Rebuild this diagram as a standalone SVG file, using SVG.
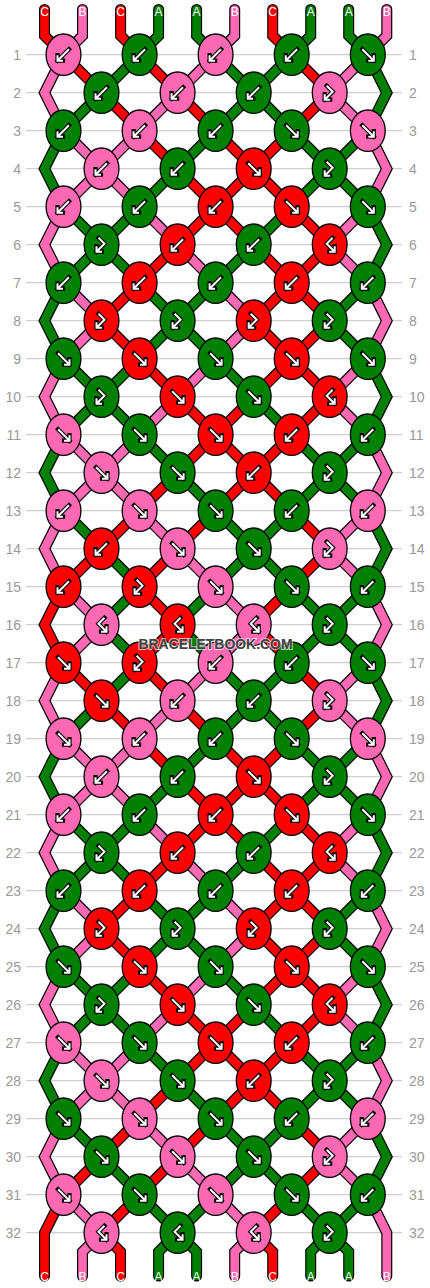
<svg xmlns="http://www.w3.org/2000/svg" xmlns:xlink="http://www.w3.org/1999/xlink" width="430" height="1288" viewBox="0 0 430 1288">
<style>
.gl{fill:none;stroke:#c4c4c4;stroke-width:1}
.rl{font-family:"Liberation Sans",Arial,sans-serif;font-size:14px;fill:#999}
.rl.l{text-anchor:end}
.ol{fill:none;stroke:#000;stroke-width:11;stroke-linejoin:miter;stroke-linecap:round}
.cA,.cB,.cC{fill:none;stroke-width:8.6;stroke-linejoin:miter;stroke-linecap:round}
.cA{stroke:#008000}.cB{stroke:#ff69b4}.cC{stroke:#ff0000}
.kA{fill:#008000}.kB{fill:#ff69b4}.kC{fill:#ff0000}
.ov{stroke:#000;stroke-width:1.3}
.ab{fill:none;stroke:#000;stroke-width:4.2;stroke-linecap:square;stroke-linejoin:miter}
.aw{fill:none;stroke:#fff;stroke-width:2;stroke-linecap:butt;stroke-linejoin:miter}
.sl{font-family:"Liberation Sans",Arial,sans-serif;font-size:12px;fill:#fff;text-anchor:middle}
.wm{font-family:"Liberation Sans",Arial,sans-serif;font-size:15px;font-weight:bold;fill:#404040;stroke:#fff;stroke-opacity:.7;stroke-width:2;paint-order:stroke;text-anchor:middle}
</style>
<defs>
<path id="dsw" d="M5.5,-5.5L-6,6M-6,0.5L-6,6L-0.5,6"/>
<path id="dse" d="M-5.5,-5.5L6,6M6,0.5L6,6L0.5,6"/>
<path id="dhl" d="M3,-7L-3,-1L5,7M5,1.5L5,7L-0.5,7"/>
<path id="dhr" d="M-3,-7L3,-1L-5,7M-5,1.5L-5,7L0.5,7"/>
<g id="sw"><ellipse class="ov" rx="17.4" ry="20.7"/><use href="#dsw" class="ab"/><use href="#dsw" class="aw"/></g>
<g id="se"><ellipse class="ov" rx="17.4" ry="20.7"/><use href="#dse" class="ab"/><use href="#dse" class="aw"/></g>
<g id="hl"><ellipse class="ov" rx="17.4" ry="20.7"/><use href="#dhl" class="ab"/><use href="#dhl" class="aw"/></g>
<g id="hr"><ellipse class="ov" rx="17.4" ry="20.7"/><use href="#dhr" class="ab"/><use href="#dhr" class="aw"/></g>
<path id="pA" d="M139.6,54.7l-38,38M215.6,54.7l38,38M291.7,54.7l-38,38M367.8,54.7l19,38l-19,38M101.5,92.7l-38,38M253.7,92.7l-38,38M253.7,92.7l38,38M63.5,130.7l-19,38l19,38M215.6,130.7l-38,38M291.7,130.7l38,38M367.8,130.7l-38,38M177.6,168.7l-38,38M329.7,168.7l-38,38M329.7,168.7l38,38M63.5,206.7l38,38M139.6,206.7l-38,38M291.7,206.7l-38,38M367.8,206.7l19,38l-19,38M101.5,244.7l-38,38M101.5,244.7l38,38M253.7,244.7l-38,38M63.5,282.7l-19,38l19,38M139.6,282.7l38,38M215.6,282.7l-38,38M367.8,282.7l-38,38M177.6,320.7l-38,38M177.6,320.7l38,38M329.7,320.7l38,38M63.5,358.7l38,38M139.6,358.7l-38,38M215.6,358.7l38,38M367.8,358.7l19,38l-19,38M101.5,396.7l-38,38M101.5,396.7l38,38M253.7,396.7l38,38M63.5,434.7l-19,38l19,38M139.6,434.7l38,38M291.7,434.7l38,38M367.8,434.7l-38,38M177.6,472.7l38,38M329.7,472.7l-38,38M329.7,472.7l38,38M63.5,510.7l38,38M215.6,510.7l38,38M291.7,510.7l-38,38M367.8,510.7l19,38l-19,38M101.5,548.7l38,38M253.7,548.7l-38,38M253.7,548.7l38,38"/>
<path id="pB" d="M63.5,54.7l-19,38l19,38M215.6,54.7l-38,38M367.8,54.7l-38,38M177.6,92.7l-38,38M329.7,92.7l38,38M63.5,130.7l38,38M139.6,130.7l-38,38M367.8,130.7l19,38l-19,38M101.5,168.7l-38,38M101.5,168.7l38,38M63.5,206.7l-19,38l19,38M139.6,206.7l38,38M367.8,206.7l-38,38M177.6,244.7l38,38M329.7,244.7l38,38M63.5,282.7l38,38M215.6,282.7l38,38M367.8,282.7l19,38l-19,38M101.5,320.7l-38,38M253.7,320.7l-38,38M63.5,358.7l-19,38l19,38M215.6,358.7l-38,38M367.8,358.7l-38,38M177.6,396.7l-38,38M329.7,396.7l38,38M63.5,434.7l38,38M139.6,434.7l-38,38M367.8,434.7l19,38l-19,38M101.5,472.7l-38,38M101.5,472.7l38,38M63.5,510.7l-19,38l19,38M139.6,510.7l38,38M367.8,510.7l-38,38M177.6,548.7l38,38M329.7,548.7l38,38"/>
<path id="pC" d="M63.5,54.7l38,38M139.6,54.7l38,38M291.7,54.7l38,38M101.5,92.7l38,38M177.6,92.7l38,38M329.7,92.7l-38,38M139.6,130.7l38,38M215.6,130.7l38,38M291.7,130.7l-38,38M177.6,168.7l38,38M253.7,168.7l-38,38M253.7,168.7l38,38M215.6,206.7l-38,38M215.6,206.7l38,38M291.7,206.7l38,38M177.6,244.7l-38,38M253.7,244.7l38,38M329.7,244.7l-38,38M139.6,282.7l-38,38M291.7,282.7l-38,38M291.7,282.7l38,38M101.5,320.7l38,38M253.7,320.7l38,38M329.7,320.7l-38,38M139.6,358.7l38,38M291.7,358.7l-38,38M291.7,358.7l38,38M177.6,396.7l38,38M253.7,396.7l-38,38M329.7,396.7l-38,38M215.6,434.7l-38,38M215.6,434.7l38,38M291.7,434.7l-38,38M177.6,472.7l-38,38M253.7,472.7l-38,38M253.7,472.7l38,38M139.6,510.7l-38,38M215.6,510.7l-38,38M291.7,510.7l38,38M101.5,548.7l-38,38M177.6,548.7l-38,38M329.7,548.7l-38,38"/>
<path id="qA" d="M158.6,9.5V35.7l-19,19M196.6,9.5V35.7l19,19M310.7,9.5V35.7l-19,19M348.7,9.5V35.7l19,19M139.6,586.7l-38,38M215.6,586.7l-38,38M291.7,586.7l38,38M367.8,586.7l-38,38M101.5,624.7l38,38M177.6,624.7l38,38M329.7,624.7l-38,38M329.7,624.7l38,38M139.6,1194.7l38,38M215.6,1194.7l-38,38M291.7,1194.7l38,38M367.8,1194.7l-38,38M177.6,1232.7l-19,19V1276M177.6,1232.7l19,19V1276M329.7,1232.7l-19,19V1276M329.7,1232.7l19,19V1276"/>
<path id="qB" d="M82.5,9.5V35.7l-19,19M234.7,9.5V35.7l-19,19M386.8,9.5V35.7l-19,19M63.5,586.7l38,38M215.6,586.7l38,38M367.8,586.7l19,38l-19,38M101.5,624.7l-38,38M253.7,624.7l-38,38M63.5,1194.7l38,38M215.6,1194.7l38,38M367.8,1194.7l19,38V1276M101.5,1232.7l-19,19V1276M253.7,1232.7l-19,19V1276"/>
<path id="qC" d="M44.5,9.5V35.7l19,19M120.6,9.5V35.7l19,19M272.7,9.5V35.7l19,19M63.5,586.7l-19,38l19,38M139.6,586.7l38,38M291.7,586.7l-38,38M177.6,624.7l-38,38M253.7,624.7l38,38M63.5,1194.7l-19,38V1276M139.6,1194.7l-38,38M291.7,1194.7l-38,38M101.5,1232.7l19,19V1276M253.7,1232.7l19,19V1276"/>
</defs>
<rect width="430" height="1288" fill="#fff"/>
<g id="grid">
<path class="gl" d="M26,54.7H402M26,92.7H402M26,130.7H402M26,168.7H402M26,206.7H402M26,244.7H402M26,282.7H402M26,320.7H402M26,358.7H402M26,396.7H402M26,434.7H402M26,472.7H402M26,510.7H402M26,548.7H402M26,586.7H402M26,624.7H402M26,662.7H402M26,700.7H402M26,738.7H402M26,776.7H402M26,814.7H402M26,852.7H402M26,890.7H402M26,928.7H402M26,966.7H402M26,1004.7H402M26,1042.7H402M26,1080.7H402M26,1118.7H402M26,1156.7H402M26,1194.7H402M26,1232.7H402"/>
<g class="rl l">
<text x="21" y="59.7">1</text><text x="21" y="97.7">2</text><text x="21" y="135.7">3</text><text x="21" y="173.7">4</text><text x="21" y="211.7">5</text><text x="21" y="249.7">6</text><text x="21" y="287.7">7</text><text x="21" y="325.7">8</text><text x="21" y="363.7">9</text><text x="21" y="401.7">10</text><text x="21" y="439.7">11</text><text x="21" y="477.7">12</text><text x="21" y="515.7">13</text><text x="21" y="553.7">14</text><text x="21" y="591.7">15</text><text x="21" y="629.7">16</text><text x="21" y="667.7">17</text><text x="21" y="705.7">18</text><text x="21" y="743.7">19</text><text x="21" y="781.7">20</text><text x="21" y="819.7">21</text><text x="21" y="857.7">22</text><text x="21" y="895.7">23</text><text x="21" y="933.7">24</text><text x="21" y="971.7">25</text><text x="21" y="1009.7">26</text><text x="21" y="1047.7">27</text><text x="21" y="1085.7">28</text><text x="21" y="1123.7">29</text><text x="21" y="1161.7">30</text><text x="21" y="1199.7">31</text><text x="21" y="1237.7">32</text>
</g>
<g class="rl">
<text x="409" y="59.7">1</text><text x="409" y="97.7">2</text><text x="409" y="135.7">3</text><text x="409" y="173.7">4</text><text x="409" y="211.7">5</text><text x="409" y="249.7">6</text><text x="409" y="287.7">7</text><text x="409" y="325.7">8</text><text x="409" y="363.7">9</text><text x="409" y="401.7">10</text><text x="409" y="439.7">11</text><text x="409" y="477.7">12</text><text x="409" y="515.7">13</text><text x="409" y="553.7">14</text><text x="409" y="591.7">15</text><text x="409" y="629.7">16</text><text x="409" y="667.7">17</text><text x="409" y="705.7">18</text><text x="409" y="743.7">19</text><text x="409" y="781.7">20</text><text x="409" y="819.7">21</text><text x="409" y="857.7">22</text><text x="409" y="895.7">23</text><text x="409" y="933.7">24</text><text x="409" y="971.7">25</text><text x="409" y="1009.7">26</text><text x="409" y="1047.7">27</text><text x="409" y="1085.7">28</text><text x="409" y="1123.7">29</text><text x="409" y="1161.7">30</text><text x="409" y="1199.7">31</text><text x="409" y="1237.7">32</text>
</g>
</g>
<g id="connectors">
<g class="ol">
<use href="#pA"/><use href="#pB"/><use href="#pC"/>
<use href="#pA" y="608"/><use href="#pB" y="608"/><use href="#pC" y="608"/>
<use href="#qA"/><use href="#qB"/><use href="#qC"/>
</g>
<use href="#pA" class="cA"/><use href="#pA" y="608" class="cA"/><use href="#qA" class="cA"/>
<use href="#pB" class="cB"/><use href="#pB" y="608" class="cB"/><use href="#qB" class="cB"/>
<use href="#pC" class="cC"/><use href="#pC" y="608" class="cC"/><use href="#qC" class="cC"/>
</g>
<g id="knots">
<g id="k1-1" class="kB" transform="translate(63.5 54.7)"><use href="#sw"/></g>
<g id="k1-2" class="kA" transform="translate(139.6 54.7)"><use href="#sw"/></g>
<g id="k1-3" class="kB" transform="translate(215.6 54.7)"><use href="#sw"/></g>
<g id="k1-4" class="kA" transform="translate(291.7 54.7)"><use href="#sw"/></g>
<g id="k1-5" class="kA" transform="translate(367.8 54.7)"><use href="#se"/></g>
<g id="k2-1" class="kA" transform="translate(101.5 92.7)"><use href="#sw"/></g>
<g id="k2-2" class="kB" transform="translate(177.6 92.7)"><use href="#sw"/></g>
<g id="k2-3" class="kA" transform="translate(253.7 92.7)"><use href="#sw"/></g>
<g id="k2-4" class="kB" transform="translate(329.7 92.7)"><use href="#hr"/></g>
<g id="k3-1" class="kA" transform="translate(63.5 130.7)"><use href="#sw"/></g>
<g id="k3-2" class="kB" transform="translate(139.6 130.7)"><use href="#sw"/></g>
<g id="k3-3" class="kA" transform="translate(215.6 130.7)"><use href="#sw"/></g>
<g id="k3-4" class="kA" transform="translate(291.7 130.7)"><use href="#se"/></g>
<g id="k3-5" class="kB" transform="translate(367.8 130.7)"><use href="#se"/></g>
<g id="k4-1" class="kB" transform="translate(101.5 168.7)"><use href="#sw"/></g>
<g id="k4-2" class="kA" transform="translate(177.6 168.7)"><use href="#sw"/></g>
<g id="k4-3" class="kC" transform="translate(253.7 168.7)"><use href="#se"/></g>
<g id="k4-4" class="kA" transform="translate(329.7 168.7)"><use href="#hr"/></g>
<g id="k5-1" class="kB" transform="translate(63.5 206.7)"><use href="#sw"/></g>
<g id="k5-2" class="kA" transform="translate(139.6 206.7)"><use href="#sw"/></g>
<g id="k5-3" class="kC" transform="translate(215.6 206.7)"><use href="#sw"/></g>
<g id="k5-4" class="kC" transform="translate(291.7 206.7)"><use href="#se"/></g>
<g id="k5-5" class="kA" transform="translate(367.8 206.7)"><use href="#se"/></g>
<g id="k6-1" class="kA" transform="translate(101.5 244.7)"><use href="#hr"/></g>
<g id="k6-2" class="kC" transform="translate(177.6 244.7)"><use href="#sw"/></g>
<g id="k6-3" class="kA" transform="translate(253.7 244.7)"><use href="#sw"/></g>
<g id="k6-4" class="kC" transform="translate(329.7 244.7)"><use href="#hl"/></g>
<g id="k7-1" class="kA" transform="translate(63.5 282.7)"><use href="#sw"/></g>
<g id="k7-2" class="kC" transform="translate(139.6 282.7)"><use href="#sw"/></g>
<g id="k7-3" class="kA" transform="translate(215.6 282.7)"><use href="#sw"/></g>
<g id="k7-4" class="kC" transform="translate(291.7 282.7)"><use href="#sw"/></g>
<g id="k7-5" class="kA" transform="translate(367.8 282.7)"><use href="#sw"/></g>
<g id="k8-1" class="kC" transform="translate(101.5 320.7)"><use href="#hr"/></g>
<g id="k8-2" class="kA" transform="translate(177.6 320.7)"><use href="#hr"/></g>
<g id="k8-3" class="kC" transform="translate(253.7 320.7)"><use href="#hr"/></g>
<g id="k8-4" class="kA" transform="translate(329.7 320.7)"><use href="#hr"/></g>
<g id="k9-1" class="kA" transform="translate(63.5 358.7)"><use href="#se"/></g>
<g id="k9-2" class="kC" transform="translate(139.6 358.7)"><use href="#se"/></g>
<g id="k9-3" class="kA" transform="translate(215.6 358.7)"><use href="#se"/></g>
<g id="k9-4" class="kC" transform="translate(291.7 358.7)"><use href="#se"/></g>
<g id="k9-5" class="kA" transform="translate(367.8 358.7)"><use href="#se"/></g>
<g id="k10-1" class="kA" transform="translate(101.5 396.7)"><use href="#hr"/></g>
<g id="k10-2" class="kC" transform="translate(177.6 396.7)"><use href="#se"/></g>
<g id="k10-3" class="kA" transform="translate(253.7 396.7)"><use href="#se"/></g>
<g id="k10-4" class="kC" transform="translate(329.7 396.7)"><use href="#hl"/></g>
<g id="k11-1" class="kB" transform="translate(63.5 434.7)"><use href="#se"/></g>
<g id="k11-2" class="kA" transform="translate(139.6 434.7)"><use href="#se"/></g>
<g id="k11-3" class="kC" transform="translate(215.6 434.7)"><use href="#se"/></g>
<g id="k11-4" class="kC" transform="translate(291.7 434.7)"><use href="#sw"/></g>
<g id="k11-5" class="kA" transform="translate(367.8 434.7)"><use href="#sw"/></g>
<g id="k12-1" class="kB" transform="translate(101.5 472.7)"><use href="#se"/></g>
<g id="k12-2" class="kA" transform="translate(177.6 472.7)"><use href="#se"/></g>
<g id="k12-3" class="kC" transform="translate(253.7 472.7)"><use href="#sw"/></g>
<g id="k12-4" class="kA" transform="translate(329.7 472.7)"><use href="#hr"/></g>
<g id="k13-1" class="kB" transform="translate(63.5 510.7)"><use href="#sw"/></g>
<g id="k13-2" class="kB" transform="translate(139.6 510.7)"><use href="#se"/></g>
<g id="k13-3" class="kA" transform="translate(215.6 510.7)"><use href="#se"/></g>
<g id="k13-4" class="kA" transform="translate(291.7 510.7)"><use href="#sw"/></g>
<g id="k13-5" class="kB" transform="translate(367.8 510.7)"><use href="#sw"/></g>
<g id="k14-1" class="kC" transform="translate(101.5 548.7)"><use href="#sw"/></g>
<g id="k14-2" class="kB" transform="translate(177.6 548.7)"><use href="#se"/></g>
<g id="k14-3" class="kA" transform="translate(253.7 548.7)"><use href="#se"/></g>
<g id="k14-4" class="kB" transform="translate(329.7 548.7)"><use href="#hr"/></g>
<g id="k15-1" class="kC" transform="translate(63.5 586.7)"><use href="#sw"/></g>
<g id="k15-2" class="kC" transform="translate(139.6 586.7)"><use href="#hr"/></g>
<g id="k15-3" class="kB" transform="translate(215.6 586.7)"><use href="#se"/></g>
<g id="k15-4" class="kA" transform="translate(291.7 586.7)"><use href="#se"/></g>
<g id="k15-5" class="kA" transform="translate(367.8 586.7)"><use href="#sw"/></g>
<g id="k16-1" class="kB" transform="translate(101.5 624.7)"><use href="#hl"/></g>
<g id="k16-2" class="kC" transform="translate(177.6 624.7)"><use href="#hl"/></g>
<g id="k16-3" class="kB" transform="translate(253.7 624.7)"><use href="#hl"/></g>
<g id="k16-4" class="kA" transform="translate(329.7 624.7)"><use href="#hr"/></g>
<g id="k17-1" class="kC" transform="translate(63.5 662.7)"><use href="#se"/></g>
<g id="k17-2" class="kC" transform="translate(139.6 662.7)"><use href="#hr"/></g>
<g id="k17-3" class="kB" transform="translate(215.6 662.7)"><use href="#sw"/></g>
<g id="k17-4" class="kA" transform="translate(291.7 662.7)"><use href="#sw"/></g>
<g id="k17-5" class="kA" transform="translate(367.8 662.7)"><use href="#se"/></g>
<g id="k18-1" class="kC" transform="translate(101.5 700.7)"><use href="#se"/></g>
<g id="k18-2" class="kB" transform="translate(177.6 700.7)"><use href="#sw"/></g>
<g id="k18-3" class="kA" transform="translate(253.7 700.7)"><use href="#sw"/></g>
<g id="k18-4" class="kB" transform="translate(329.7 700.7)"><use href="#hr"/></g>
<g id="k19-1" class="kB" transform="translate(63.5 738.7)"><use href="#se"/></g>
<g id="k19-2" class="kB" transform="translate(139.6 738.7)"><use href="#sw"/></g>
<g id="k19-3" class="kA" transform="translate(215.6 738.7)"><use href="#sw"/></g>
<g id="k19-4" class="kA" transform="translate(291.7 738.7)"><use href="#se"/></g>
<g id="k19-5" class="kB" transform="translate(367.8 738.7)"><use href="#se"/></g>
<g id="k20-1" class="kB" transform="translate(101.5 776.7)"><use href="#sw"/></g>
<g id="k20-2" class="kA" transform="translate(177.6 776.7)"><use href="#sw"/></g>
<g id="k20-3" class="kC" transform="translate(253.7 776.7)"><use href="#se"/></g>
<g id="k20-4" class="kA" transform="translate(329.7 776.7)"><use href="#hr"/></g>
<g id="k21-1" class="kB" transform="translate(63.5 814.7)"><use href="#sw"/></g>
<g id="k21-2" class="kA" transform="translate(139.6 814.7)"><use href="#sw"/></g>
<g id="k21-3" class="kC" transform="translate(215.6 814.7)"><use href="#sw"/></g>
<g id="k21-4" class="kC" transform="translate(291.7 814.7)"><use href="#se"/></g>
<g id="k21-5" class="kA" transform="translate(367.8 814.7)"><use href="#se"/></g>
<g id="k22-1" class="kA" transform="translate(101.5 852.7)"><use href="#hr"/></g>
<g id="k22-2" class="kC" transform="translate(177.6 852.7)"><use href="#sw"/></g>
<g id="k22-3" class="kA" transform="translate(253.7 852.7)"><use href="#sw"/></g>
<g id="k22-4" class="kC" transform="translate(329.7 852.7)"><use href="#hl"/></g>
<g id="k23-1" class="kA" transform="translate(63.5 890.7)"><use href="#sw"/></g>
<g id="k23-2" class="kC" transform="translate(139.6 890.7)"><use href="#sw"/></g>
<g id="k23-3" class="kA" transform="translate(215.6 890.7)"><use href="#sw"/></g>
<g id="k23-4" class="kC" transform="translate(291.7 890.7)"><use href="#sw"/></g>
<g id="k23-5" class="kA" transform="translate(367.8 890.7)"><use href="#sw"/></g>
<g id="k24-1" class="kC" transform="translate(101.5 928.7)"><use href="#hr"/></g>
<g id="k24-2" class="kA" transform="translate(177.6 928.7)"><use href="#hr"/></g>
<g id="k24-3" class="kC" transform="translate(253.7 928.7)"><use href="#hr"/></g>
<g id="k24-4" class="kA" transform="translate(329.7 928.7)"><use href="#hr"/></g>
<g id="k25-1" class="kA" transform="translate(63.5 966.7)"><use href="#se"/></g>
<g id="k25-2" class="kC" transform="translate(139.6 966.7)"><use href="#se"/></g>
<g id="k25-3" class="kA" transform="translate(215.6 966.7)"><use href="#se"/></g>
<g id="k25-4" class="kC" transform="translate(291.7 966.7)"><use href="#se"/></g>
<g id="k25-5" class="kA" transform="translate(367.8 966.7)"><use href="#se"/></g>
<g id="k26-1" class="kA" transform="translate(101.5 1004.7)"><use href="#hr"/></g>
<g id="k26-2" class="kC" transform="translate(177.6 1004.7)"><use href="#se"/></g>
<g id="k26-3" class="kA" transform="translate(253.7 1004.7)"><use href="#se"/></g>
<g id="k26-4" class="kC" transform="translate(329.7 1004.7)"><use href="#hl"/></g>
<g id="k27-1" class="kB" transform="translate(63.5 1042.7)"><use href="#se"/></g>
<g id="k27-2" class="kA" transform="translate(139.6 1042.7)"><use href="#se"/></g>
<g id="k27-3" class="kC" transform="translate(215.6 1042.7)"><use href="#se"/></g>
<g id="k27-4" class="kC" transform="translate(291.7 1042.7)"><use href="#sw"/></g>
<g id="k27-5" class="kA" transform="translate(367.8 1042.7)"><use href="#sw"/></g>
<g id="k28-1" class="kB" transform="translate(101.5 1080.7)"><use href="#se"/></g>
<g id="k28-2" class="kA" transform="translate(177.6 1080.7)"><use href="#se"/></g>
<g id="k28-3" class="kC" transform="translate(253.7 1080.7)"><use href="#sw"/></g>
<g id="k28-4" class="kA" transform="translate(329.7 1080.7)"><use href="#hr"/></g>
<g id="k29-1" class="kA" transform="translate(63.5 1118.7)"><use href="#se"/></g>
<g id="k29-2" class="kB" transform="translate(139.6 1118.7)"><use href="#se"/></g>
<g id="k29-3" class="kA" transform="translate(215.6 1118.7)"><use href="#se"/></g>
<g id="k29-4" class="kA" transform="translate(291.7 1118.7)"><use href="#sw"/></g>
<g id="k29-5" class="kB" transform="translate(367.8 1118.7)"><use href="#sw"/></g>
<g id="k30-1" class="kA" transform="translate(101.5 1156.7)"><use href="#se"/></g>
<g id="k30-2" class="kB" transform="translate(177.6 1156.7)"><use href="#se"/></g>
<g id="k30-3" class="kA" transform="translate(253.7 1156.7)"><use href="#se"/></g>
<g id="k30-4" class="kB" transform="translate(329.7 1156.7)"><use href="#hr"/></g>
<g id="k31-1" class="kB" transform="translate(63.5 1194.7)"><use href="#se"/></g>
<g id="k31-2" class="kA" transform="translate(139.6 1194.7)"><use href="#se"/></g>
<g id="k31-3" class="kB" transform="translate(215.6 1194.7)"><use href="#se"/></g>
<g id="k31-4" class="kA" transform="translate(291.7 1194.7)"><use href="#se"/></g>
<g id="k31-5" class="kA" transform="translate(367.8 1194.7)"><use href="#sw"/></g>
<g id="k32-1" class="kB" transform="translate(101.5 1232.7)"><use href="#hl"/></g>
<g id="k32-2" class="kA" transform="translate(177.6 1232.7)"><use href="#hl"/></g>
<g id="k32-3" class="kB" transform="translate(253.7 1232.7)"><use href="#hl"/></g>
<g id="k32-4" class="kA" transform="translate(329.7 1232.7)"><use href="#hr"/></g>
</g>
<g id="string-labels" class="sl">
<text x="44.5" y="16">C</text><text x="82.5" y="16">B</text><text x="120.6" y="16">C</text><text x="158.6" y="16">A</text><text x="196.6" y="16">A</text><text x="234.7" y="16">B</text><text x="272.7" y="16">C</text><text x="310.7" y="16">A</text><text x="348.7" y="16">A</text><text x="386.8" y="16">B</text>
<text x="44.5" y="1280.5">C</text><text x="82.5" y="1280.5">B</text><text x="120.6" y="1280.5">C</text><text x="158.6" y="1280.5">A</text><text x="196.6" y="1280.5">A</text><text x="234.7" y="1280.5">B</text><text x="272.7" y="1280.5">C</text><text x="310.7" y="1280.5">A</text><text x="348.7" y="1280.5">A</text><text x="386.8" y="1280.5">B</text>
</g>
<text id="watermark" class="wm" x="215.5" y="649" textLength="154" lengthAdjust="spacingAndGlyphs">BRACELETBOOK.COM</text>
</svg>
